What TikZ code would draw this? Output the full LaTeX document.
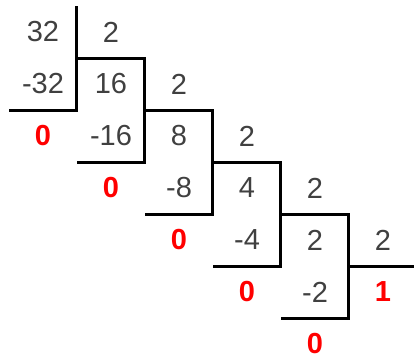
\documentclass[tikz,border=0pt]{standalone}
\usepackage{fontspec}
\setmainfont{Liberation Sans}
\usetikzlibrary{matrix}
\definecolor{numgray}{RGB}{64,64,64}
\definecolor{remred}{RGB}{255,0,0}

\begin{document}
\begin{tikzpicture}[
    cell/.style={minimum width=34pt, minimum height=26pt, inner sep=0pt, outer sep=0pt,
      text=numgray, font=\fontsize{14.5}{17}\selectfont},
    rest/.style={cell, text=remred, font=\fontsize{14.5}{17}\selectfont\bfseries},
    bar/.style={line width=1.5pt}]
  \useasboundingbox (0,0) rectangle (207pt,-180pt);
  \matrix (divtab) [column sep=0pt, row sep=0pt, inner sep=0pt, outer sep=0pt,
    anchor=north west] at (4.5pt,-3pt) {
    \node (n0) [cell] {32}; & \node (v0) [cell] {2}; & & & & \\
    \node (m0) [cell] {-32}; & \node (n1) [cell] {16}; & \node (v1) [cell] {2}; & & & \\
    \node (r0) [rest] {0}; & \node (m1) [cell] {-16}; & \node (n2) [cell] {8}; &
    \node (v2) [cell] {2}; & & \\
    & \node (r1) [rest] {0}; & \node (m2) [cell] {-8}; & \node (n3) [cell] {4}; &
    \node (v3) [cell] {2}; & \\
    & & \node (r2) [rest] {0}; & \node (m3) [cell] {-4}; & \node (n4) [cell] {2}; &
    \node (v4) [cell] {2}; \\
    & & & \node (r3) [rest] {0}; & \node (m4) [cell] {-2}; & \node (q) [rest] {1}; \\
    & & & & \node (r4) [rest] {0}; & \\
  };
  % division brackets
  \draw[bar] (n0.north east) -- (m0.south east) -- (m0.south west);
  \foreach \k in {1,...,4}
    \draw[bar] (n\k.north west) -- (n\k.north east) -- (m\k.south east) -- (m\k.south west);
  \draw[bar] (q.north west) -- (q.north east);
\end{tikzpicture}
\end{document}
